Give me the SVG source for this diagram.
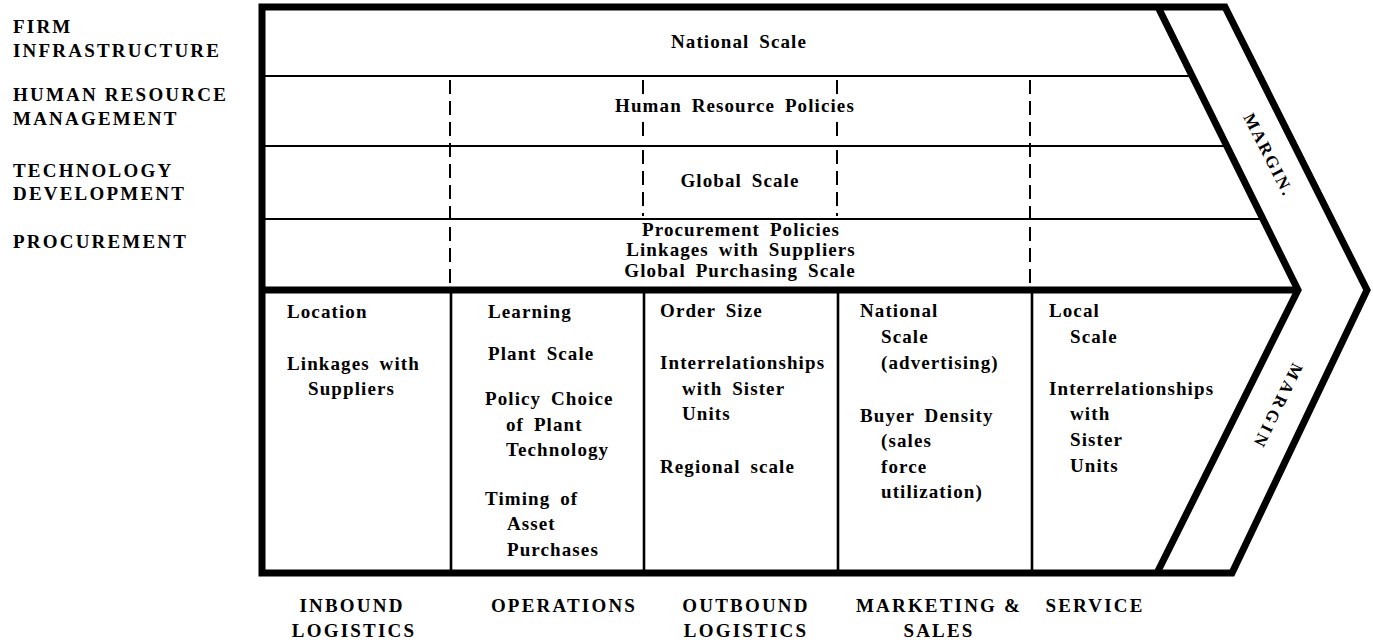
<svg xmlns="http://www.w3.org/2000/svg" width="1373" height="643" viewBox="0 0 1373 643">
<style>
  text { font-family: "Liberation Serif", "Times New Roman", serif; font-weight: bold; fill: #000; }
  .cap { font-size: 19px; letter-spacing: 2.2px; }
  .t { font-size: 19px; letter-spacing: 1.1px; word-spacing: 4px; }
  .mid { text-anchor: middle; }
  .margin { font-size: 17px; letter-spacing: 2px; }
  .margin2 { font-size: 17px; letter-spacing: 3.5px; }
  .thick { fill: none; stroke: #000; stroke-width: 7; stroke-linejoin: miter; stroke-miterlimit: 10; }
  .thin { stroke: #000; stroke-width: 2.2; fill: none; }
  .col { stroke: #000; stroke-width: 2.6; fill: none; }
  .dash { stroke: #000; stroke-width: 2; stroke-dasharray: 14 7; fill: none; }
</style>
<rect width="1373" height="643" fill="#fff"/>

<g id="frame">
  <line class="thin" x1="265" y1="76" x2="1192" y2="76"/>
  <line class="thin" x1="265" y1="146" x2="1227" y2="146"/>
  <line class="thin" x1="265" y1="219" x2="1263" y2="219"/>
  <line class="col" x1="451" y1="290" x2="451" y2="573"/>
  <line class="col" x1="644" y1="290" x2="644" y2="573"/>
  <line class="col" x1="838" y1="290" x2="838" y2="573"/>
  <line class="col" x1="1032" y1="290" x2="1032" y2="573"/>
  <polygon class="thick" points="262,7 1225,7 1367,290 1232,573 262,573"/>
  <polyline class="thick" points="1158,7 1298,290 1157,573"/>
  <line class="thick" x1="262" y1="290" x2="1298" y2="290"/>
</g>

<g id="connectors">
  <line class="dash" x1="450" y1="80" x2="450" y2="288"/>
  <line class="dash" x1="643" y1="80" x2="643" y2="94"/>
  <line class="dash" x1="643" y1="122" x2="643" y2="143"/>
  <line class="dash" x1="643" y1="150" x2="643" y2="216"/>
  <line class="dash" x1="837" y1="80" x2="837" y2="94"/>
  <line class="dash" x1="837" y1="122" x2="837" y2="143"/>
  <line class="dash" x1="837" y1="150" x2="837" y2="216"/>
  <line class="dash" x1="1030" y1="80" x2="1030" y2="288"/>
</g>

<g id="support-labels">
  <text class="cap" x="13" y="33">FIRM</text>
  <text class="cap" x="13" y="57">INFRASTRUCTURE</text>
  <text class="cap" x="13" y="101">HUMAN RESOURCE</text>
  <text class="cap" x="13" y="125">MANAGEMENT</text>
  <text class="cap" x="13" y="177">TECHNOLOGY</text>
  <text class="cap" x="13" y="200">DEVELOPMENT</text>
  <text class="cap" x="13" y="248">PROCUREMENT</text>
</g>

<g id="firm-infrastructure">
  <text class="t mid" x="739" y="48">National Scale</text>
</g>
<g id="hrm">
  <text class="t mid" x="735" y="112">Human Resource Policies</text>
</g>
<g id="technology">
  <text class="t mid" x="740" y="187">Global Scale</text>
</g>
<g id="procurement">
  <text class="t mid" x="741" y="236">Procurement Policies</text>
  <text class="t mid" x="741" y="256">Linkages with Suppliers</text>
  <text class="t mid" x="740" y="277">Global Purchasing Scale</text>
</g>

<g id="inbound">
  <text class="t" x="287" y="318">Location</text>
  <text class="t" x="287" y="370">Linkages with</text>
  <text class="t" x="308" y="395">Suppliers</text>
</g>
<g id="operations">
  <text class="t" x="488" y="318">Learning</text>
  <text class="t" x="488" y="360">Plant Scale</text>
  <text class="t" x="485" y="405">Policy Choice</text>
  <text class="t" x="506" y="431">of Plant</text>
  <text class="t" x="506" y="456">Technology</text>
  <text class="t" x="485" y="505">Timing of</text>
  <text class="t" x="507" y="530">Asset</text>
  <text class="t" x="507" y="556">Purchases</text>
</g>
<g id="outbound">
  <text class="t" x="660" y="317">Order Size</text>
  <text class="t" x="660" y="369">Interrelationships</text>
  <text class="t" x="682" y="395">with Sister</text>
  <text class="t" x="682" y="420">Units</text>
  <text class="t" x="660" y="473">Regional scale</text>
</g>
<g id="marketing">
  <text class="t" x="860" y="317">National</text>
  <text class="t" x="881" y="343">Scale</text>
  <text class="t" x="881" y="369">(advertising)</text>
  <text class="t" x="860" y="422">Buyer Density</text>
  <text class="t" x="881" y="447">(sales</text>
  <text class="t" x="881" y="473">force</text>
  <text class="t" x="881" y="498">utilization)</text>
</g>
<g id="service">
  <text class="t" x="1049" y="317">Local</text>
  <text class="t" x="1070" y="343">Scale</text>
  <text class="t" x="1049" y="395">Interrelationships</text>
  <text class="t" x="1070" y="420">with</text>
  <text class="t" x="1070" y="446">Sister</text>
  <text class="t" x="1070" y="472">Units</text>
</g>

<g id="primary-labels">
  <text class="cap mid" x="352" y="612">INBOUND</text>
  <text class="cap mid" x="354" y="637">LOGISTICS</text>
  <text class="cap mid" x="564" y="612">OPERATIONS</text>
  <text class="cap mid" x="746" y="612">OUTBOUND</text>
  <text class="cap mid" x="746" y="637">LOGISTICS</text>
  <text class="cap mid" x="939" y="612">MARKETING &amp;</text>
  <text class="cap mid" x="939" y="637">SALES</text>
  <text class="cap mid" x="1095" y="612">SERVICE</text>
</g>

<g id="margin">
  <text class="margin" transform="translate(1243,117) rotate(63)">MARGIN.</text>
  <text class="margin2" transform="translate(1293,362) rotate(116)">MARGIN</text>
</g>
</svg>
